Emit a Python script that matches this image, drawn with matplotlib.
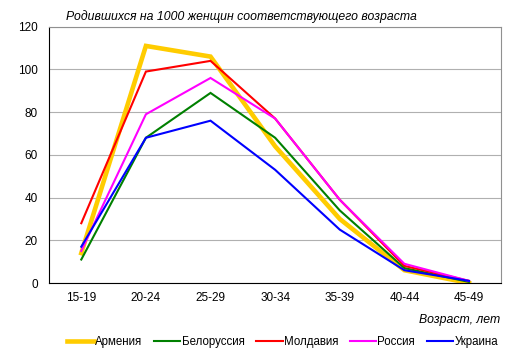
import matplotlib.pyplot as plt

plt.rcParams['font.family'] = ['Liberation Sans', 'DejaVu Sans']

ages = ['15-19', '20-24', '25-29', '30-34', '35-39', '40-44', '45-49']
armenia = [14, 111, 106, 64, 30, 6, 0]
belarus = [11, 68, 89, 68, 34, 7, 0.5]
moldova = [28, 99, 104, 77, 39, 8, 1]
russia = [15, 79, 96, 77, 39, 9, 1]
ukraine = [17, 68, 76, 53, 25, 6, 1]

series = [
    ('Армения', armenia, '#ffcc00', 3.3),
    ('Белоруссия', belarus, '#008000', 1.5),
    ('Молдавия', moldova, '#ff0000', 1.5),
    ('Россия', russia, '#ff00ff', 1.5),
    ('Украина', ukraine, '#0000ff', 1.5),
]

fig = plt.figure(figsize=(5.14, 3.56), dpi=100)
ax = fig.add_axes([0.0953, 0.205, 0.88, 0.72])

x = range(len(ages))
for name, vals, color, lw in series:
    ax.plot(x, vals, color=color, lw=lw, label=name, solid_joinstyle='miter')

ax.set_xlim(-0.5, 6.5)
ax.set_ylim(0, 120)
ax.set_yticks(range(0, 121, 20))
ax.set_xticks(list(x))
ax.set_xticklabels(ages)
ax.tick_params(length=0, labelsize=8.5, pad=6.5)
ax.tick_params(axis='y', pad=8)
ax.yaxis.grid(True, color='#b0b0b0', lw=0.8)
ax.set_axisbelow(True)
for s in ['top', 'right']:
    ax.spines[s].set_color('#909090')
for s in ['left', 'bottom']:
    ax.spines[s].set_color('black')

fig.text(0.128, 0.953, 'Родившихся на 1000 женщин соответствующего возраста',
         fontsize=8.8, style='italic', va='center')
fig.text(0.973, 0.1, 'Возраст, лет', fontsize=8.8, style='italic',
         ha='right', va='center')

fig.legend(*ax.get_legend_handles_labels(), loc='center',
           bbox_to_anchor=(0.55, 0.04), ncol=5, frameon=False,
           fontsize=8.3, handlelength=2.3, handletextpad=0.1,
           columnspacing=1.0, borderaxespad=0, borderpad=0)

fig.savefig('out.png', dpi=100)
